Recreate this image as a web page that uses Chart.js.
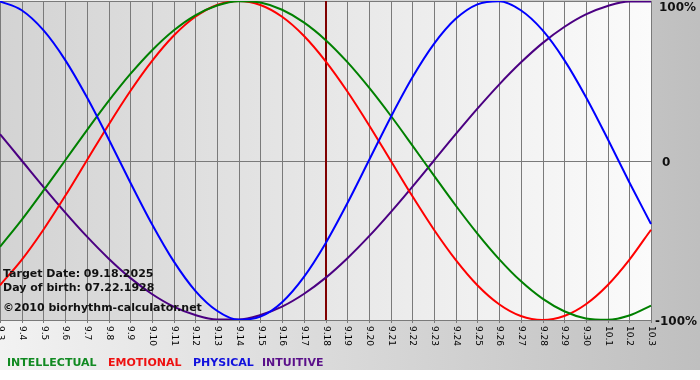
<!DOCTYPE html>
<html>
<head>
<meta charset="utf-8">
<script src="https://cdn.jsdelivr.net/npm/chart.js@4.4.1/dist/chart.umd.min.js"></script>
<style>
  body { margin: 0; background: #fff; }
  canvas { display: block; }
</style>
</head>
<body>
<canvas id="bioChart" width="700" height="380"></canvas>
<script>
// days shown on the x axis
const dayLabels = ['9.3', '9.4', '9.5', '9.6', '9.7', '9.8', '9.9', '9.10', '9.11', '9.12',
  '9.13', '9.14', '9.15', '9.16', '9.17', '9.18', '9.19', '9.20', '9.21', '9.22',
  '9.23', '9.24', '9.25', '9.26', '9.27', '9.28', '9.29', '9.30', '10.1', '10.2', '10.3'];

// cycle values in percent, one per day
const intellectual = [-54.1, -37.2, -18.9, 0, 18.9, 37.2, 54.1, 69.0, 81.5, 91.0,
  97.2, 99.9, 99.0, 94.5, 86.6, 75.6, 61.8, 45.8, 28.2, 9.5,
  -9.5, -28.2, -45.8, -61.8, -75.6, -86.6, -94.5, -99.0, -99.9, -97.2, -91.0];
const emotional = [-78.2, -62.3, -43.4, -22.3, 0, 22.3, 43.4, 62.3, 78.2, 90.1,
  97.5, 100, 97.5, 90.1, 78.2, 62.3, 43.4, 22.3, 0, -22.3,
  -43.4, -62.3, -78.2, -90.1, -97.5, -100, -97.5, -90.1, -78.2, -62.3, -43.4];
const physical = [99.8, 94.2, 81.7, 63.1, 39.8, 13.6, -13.6, -39.8, -63.1, -81.7,
  -94.2, -99.8, -97.9, -88.8, -73.1, -52.0, -27.0, 0, 27.0, 52.0,
  73.1, 88.8, 97.9, 99.8, 94.2, 81.7, 63.1, 39.8, 13.6, -13.6, -39.8];
const intuitive = [16.5, 0, -16.5, -32.5, -47.6, -61.4, -73.6, -83.7, -91.6, -96.9,
  -99.7, -99.7, -96.9, -91.6, -83.7, -73.6, -61.4, -47.6, -32.5, -16.5,
  0, 16.5, 32.5, 47.6, 61.4, 73.6, 83.7, 91.6, 96.9, 99.7, 99.7];

const yTicks = [100, 0, -100];
const yTickLabels = ['100%', '0', '-100%'];
const targetDay = '9.18';
const infoLines = ['Target Date: 09.18.2025', 'Day of birth: 07.22.1928', '\u00a92010 biorhythm-calculator.net'];
const legendNames = ['INTELLECTUAL', 'EMOTIONAL', 'PHYSICAL', 'INTUITIVE'];

const colors = {
  intellectual: '#008000',
  emotional: '#ff0000',
  physical: '#0000ff',
  intuitive: '#4b0082'
};
const legendColors = ['#118a22', '#ee1111', '#1111dd', '#5a108a'];
const legendX = [7, 108, 193, 262];

// backgrounds, grid, labels and texts
const bioPlugin = {
  id: 'bioPlugin',
  beforeDraw(chart) {
    const ctx = chart.ctx;
    const area = chart.chartArea;
    const x = chart.scales.x;
    const y = chart.scales.y;

    // outer background
    let g = ctx.createLinearGradient(0, 0, 700, 0);
    g.addColorStop(0, '#f2f2f2');
    g.addColorStop(1, '#bfbfbf');
    ctx.fillStyle = g;
    ctx.fillRect(0, 0, 700, 370);
    ctx.fillStyle = '#ffffff';
    ctx.fillRect(0, 370, 700, 10);

    // plot background
    g = ctx.createLinearGradient(area.left, 0, area.right, 0);
    g.addColorStop(0, '#d3d3d3');
    g.addColorStop(1, '#fbfbfb');
    ctx.fillStyle = g;
    ctx.fillRect(area.left, area.top, area.right - area.left, area.bottom - area.top);

    // vertical grid lines, one per day
    ctx.strokeStyle = '#7a7a7a';
    ctx.lineWidth = 1;
    ctx.beginPath();
    dayLabels.forEach((lbl, i) => {
      const px = Math.round(x.getPixelForValue(i)) + 0.5;
      ctx.moveTo(px, area.top);
      ctx.lineTo(px, area.bottom + 3);
    });
    yTicks.forEach(v => {
      const py = Math.round(y.getPixelForValue(v)) + 0.5;
      ctx.moveTo(area.left, py);
      ctx.lineTo(area.right + 1, py);
    });
    ctx.stroke();

    // target day marker
    const tx = x.getPixelForValue(dayLabels.indexOf(targetDay));
    ctx.strokeStyle = '#800000';
    ctx.lineWidth = 2;
    ctx.beginPath();
    ctx.moveTo(tx + 0.5, area.top);
    ctx.lineTo(tx + 0.5, area.bottom);
    ctx.stroke();

    // x labels, rotated clockwise
    ctx.fillStyle = '#000';
    ctx.font = '9px "DejaVu Sans"';
    ctx.textAlign = 'left';
    ctx.textBaseline = 'middle';
    dayLabels.forEach((lbl, i) => {
      ctx.save();
      ctx.translate(x.getPixelForValue(i) + 0.5, area.bottom + 6);
      ctx.rotate(Math.PI / 2);
      ctx.fillText(lbl, 0, 0);
      ctx.restore();
    });

    // y labels on the right
    ctx.fillStyle = '#111';
    ctx.font = 'bold 12px "DejaVu Sans"';
    ctx.textBaseline = 'middle';
    yTicks.forEach((v, i) => {
      const py = y.getPixelForValue(v);
      const off = yTickLabels[i] === '-100%' ? 4 : (yTickLabels[i] === '0' ? 11 : 8);
      ctx.fillText(yTickLabels[i], area.right + off, Math.max(py + 2, 8));
    });

    // legend
    ctx.font = 'bold 11px "DejaVu Sans"';
    ctx.textBaseline = 'alphabetic';
    legendNames.forEach((name, i) => {
      ctx.fillStyle = legendColors[i];
      ctx.fillText(name, legendX[i], 366);
    });
  },
  afterDatasetsDraw(chart) {
    const ctx = chart.ctx;
    ctx.save();
    ctx.fillStyle = '#111';
    ctx.font = 'bold 11px "DejaVu Sans"';
    ctx.textAlign = 'left';
    ctx.textBaseline = 'alphabetic';
    ctx.fillText(infoLines[0], 3, 277);
    ctx.fillText(infoLines[1], 3, 291);
    ctx.fillText(infoLines[2], 3, 311);
    ctx.restore();
  }
};

function lineSet(label, data, color) {
  return {
    label: label,
    data: data,
    borderColor: color,
    borderWidth: 2,
    pointRadius: 0,
    cubicInterpolationMode: 'monotone',
    fill: false
  };
}

new Chart(document.getElementById('bioChart'), {
  type: 'line',
  data: {
    labels: dayLabels,
    datasets: [
      lineSet('PHYSICAL', physical, colors.physical),
      lineSet('INTELLECTUAL', intellectual, colors.intellectual),
      lineSet('EMOTIONAL', emotional, colors.emotional),
      lineSet('INTUITIVE', intuitive, colors.intuitive)
    ]
  },
  options: {
    responsive: false,
    animation: false,
    devicePixelRatio: 1,
    layout: { padding: { left: 0, top: 1, right: 49, bottom: 60 } },
    scales: {
      x: { display: false },
      y: { display: false, min: -100, max: 100 }
    },
    plugins: {
      legend: { display: false },
      tooltip: { enabled: false }
    }
  },
  plugins: [bioPlugin]
});
</script>
</body>
</html>
